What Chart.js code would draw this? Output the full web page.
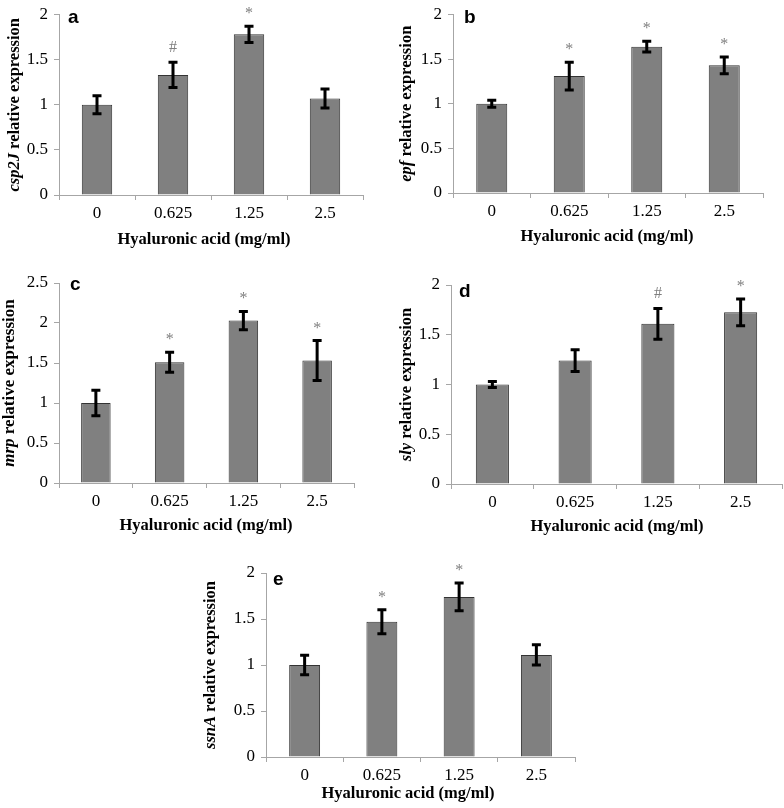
<!DOCTYPE html>
<html>
<head>
<meta charset="utf-8">
<script src="https://cdn.jsdelivr.net/npm/chart.js@4.4.1/dist/chart.umd.min.js"></script>
<style>
  html, body { margin: 0; padding: 0; background: #fff; }
  body { width: 784px; height: 808px; position: relative; overflow: hidden; }
  canvas { position: absolute; }
</style>
</head>
<body>
<canvas id="pa" width="392" height="260" style="left:0px;top:0px"></canvas>
<canvas id="pb" width="392" height="260" style="left:392px;top:0px"></canvas>
<canvas id="pc" width="392" height="280" style="left:0px;top:260px"></canvas>
<canvas id="pd" width="392" height="280" style="left:392px;top:260px"></canvas>
<canvas id="pe" width="392" height="278" style="left:200px;top:530px"></canvas>
<script>
// Concentraciones de ácido hialurónico (mg/ml)
const doses = ['0', '0.625', '1.25', '2.5'];

// Expresión relativa por gen (media y error)
const csp2J = [1.0, 1.33, 1.78, 1.07];
const csp2JErr = [0.10, 0.14, 0.09, 0.105];
const csp2JMarks = ['', '#', '*', ''];

const epf = [1.0, 1.31, 1.64, 1.43];
const epfErr = [0.04, 0.155, 0.06, 0.095];
const epfMarks = ['', '*', '*', '*'];

const mrp = [1.0, 1.51, 2.03, 1.53];
const mrpErr = [0.16, 0.125, 0.115, 0.25];
const mrpMarks = ['', '*', '*', '*'];

const sly = [1.0, 1.24, 1.61, 1.725];
const slyErr = [0.03, 0.11, 0.155, 0.135];
const slyMarks = ['', '', '#', '*'];

const ssnA = [1.0, 1.47, 1.74, 1.11];
const ssnAErr = [0.105, 0.13, 0.15, 0.11];
const ssnAMarks = ['', '*', '*', ''];

const ejeColor = '#a6a6a6';
const serif = "'Liberation Serif', 'Times New Roman', serif";

// area = [izq, arriba, der, abajo] del área de trazado dentro de cada canvas
const paneles = [
  { id: 'pa', letra: 'a', gen: 'csp2J', valores: csp2J, errores: csp2JErr, marcas: csp2JMarks, yMax: 2,
    area: [59, 12, 363, 195], yTituloX: 15, yTituloSize: 16.5, xTitulo: [204, 240], letraPos: [68, 23] },
  { id: 'pb', letra: 'b', gen: 'epf', valores: epf, errores: epfErr, marcas: epfMarks, yMax: 2,
    area: [61, 8, 371, 193], yTituloX: 15, yTituloSize: 16.5, xTitulo: [215, 237], letraPos: [72, 23] },
  { id: 'pc', letra: 'c', gen: 'mrp', valores: mrp, errores: mrpErr, marcas: mrpMarks, yMax: 2.5,
    area: [59, 23, 354, 223], yTituloX: 10, yTituloSize: 17, xTitulo: [206, 266], letraPos: [70, 30] },
  { id: 'pd', letra: 'd', gen: 'sly', valores: sly, errores: slyErr, marcas: slyMarks, yMax: 2,
    area: [59, 25, 390, 224], yTituloX: 15, yTituloSize: 16.5, xTitulo: [225, 267], letraPos: [67, 37] },
  { id: 'pe', letra: 'e', gen: 'ssnA', valores: ssnA, errores: ssnAErr, marcas: ssnAMarks, yMax: 2,
    area: [66, 43, 375, 227], yTituloX: 11, yTituloSize: 16.5, xTitulo: [208, 264], letraPos: [73, 55] }
];

// Barras de error, asteriscos, títulos y letra del panel
const extrasPanel = {
  id: 'extrasPanel',
  afterDatasetsDraw(chart) {
    const p = chart.options.plugins.extrasPanel.panel;
    const ctx = chart.ctx;
    const meta = chart.getDatasetMeta(0);
    const y = chart.scales.y;
    ctx.save();
    meta.data.forEach((bar, i) => {
      const v = p.valores[i];
      const e = p.errores[i];
      const yTop = y.getPixelForValue(v + e);
      const yBot = y.getPixelForValue(v - e);
      ctx.strokeStyle = '#000';
      ctx.lineWidth = 3;
      ctx.beginPath();
      ctx.moveTo(bar.x, yTop);
      ctx.lineTo(bar.x, yBot);
      ctx.moveTo(bar.x - 4.5, yTop);
      ctx.lineTo(bar.x + 4.5, yTop);
      ctx.moveTo(bar.x - 4.5, yBot);
      ctx.lineTo(bar.x + 4.5, yBot);
      ctx.stroke();

      const marca = p.marcas[i];
      if (marca) {
        ctx.fillStyle = '#7f7f7f';
        ctx.font = '16px ' + serif;
        ctx.textAlign = 'center';
        ctx.textBaseline = 'alphabetic';
        const base = marca === '*' ? yTop - 8 : yTop - 10;
        ctx.fillText(marca, bar.x, base);
      }
    });
    ctx.restore();
  },
  afterDraw(chart) {
    const p = chart.options.plugins.extrasPanel.panel;
    const ctx = chart.ctx;
    const area = chart.chartArea;
    ctx.save();

    // Título eje Y: gen en cursiva + texto normal
    const fGen = 'italic bold ' + p.yTituloSize + 'px ' + serif;
    const fResto = 'bold ' + p.yTituloSize + 'px ' + serif;
    const resto = ' relative expression';
    ctx.font = fGen;
    const wGen = ctx.measureText(p.gen).width;
    ctx.font = fResto;
    const wResto = ctx.measureText(resto).width;
    ctx.translate(p.yTituloX, (area.top + area.bottom) / 2);
    ctx.rotate(-Math.PI / 2);
    ctx.fillStyle = '#000';
    ctx.textBaseline = 'middle';
    ctx.textAlign = 'left';
    const x0 = -(wGen + wResto) / 2;
    ctx.font = fGen;
    ctx.fillText(p.gen, x0, 0);
    ctx.font = fResto;
    ctx.fillText(resto, x0 + wGen, 0);
    ctx.setTransform(1, 0, 0, 1, 0, 0);

    // Título eje X
    ctx.font = 'bold 16.5px ' + serif;
    ctx.textAlign = 'center';
    ctx.textBaseline = 'middle';
    ctx.fillText('Hyaluronic acid (mg/ml)', p.xTitulo[0], p.xTitulo[1]);

    // Letra del panel
    ctx.font = "bold 19px 'Liberation Sans', Arial, sans-serif";
    ctx.textAlign = 'left';
    ctx.textBaseline = 'alphabetic';
    ctx.fillText(p.letra, p.letraPos[0], p.letraPos[1]);
    ctx.restore();
  }
};

function crearPanel(p) {
  const canvas = document.getElementById(p.id);
  const [izq, arriba, der, abajo] = p.area;
  return new Chart(canvas, {
    type: 'bar',
    data: {
      labels: doses,
      datasets: [{
        data: p.valores,
        backgroundColor: '#808080',
        borderColor: '#333333',
        borderWidth: 1,
        barPercentage: 0.4,
        categoryPercentage: 1
      }]
    },
    options: {
      responsive: false,
      animation: false,
      devicePixelRatio: 1,
      layout: { padding: { left: 0, top: arriba, right: canvas.width - der, bottom: 0 } },
      plugins: {
        legend: { display: false },
        tooltip: { enabled: false },
        extrasPanel: { panel: p }
      },
      scales: {
        x: {
          offset: true,
          grid: { display: true, offset: true, drawOnChartArea: false, drawTicks: true, tickLength: 5, color: ejeColor },
          border: { display: true, color: ejeColor, width: 1 },
          ticks: { color: '#000', padding: 3, font: { family: serif, size: 17 } },
          afterFit: function(scale) { scale.height = canvas.height - abajo; }
        },
        y: {
          min: 0,
          max: p.yMax,
          grid: { display: true, drawOnChartArea: false, drawTicks: true, tickLength: 5, color: ejeColor },
          border: { display: true, color: ejeColor, width: 1 },
          ticks: {
            stepSize: 0.5,
            color: '#000',
            padding: 6,
            font: { family: serif, size: 17, lineHeight: 1 },
            callback: function(v) { return String(v); }
          },
          afterFit: function(scale) { scale.width = izq; }
        }
      }
    },
    plugins: [extrasPanel]
  });
}

paneles.forEach(crearPanel);
</script>
</body>
</html>
